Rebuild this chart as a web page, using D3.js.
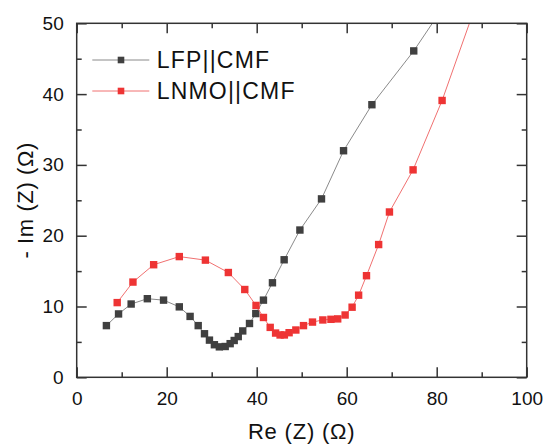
<!DOCTYPE html>
<html>
<head>
<meta charset="utf-8">
<script src="https://cdn.jsdelivr.net/npm/d3@7/dist/d3.min.js"></script>
<style>
  html, body { margin: 0; padding: 0; background: #fff; }
  svg { display: block; }
  text { font-family: "Liberation Sans", Arial, sans-serif; fill: #111; }
</style>
</head>
<body>
<svg id="chart" width="545" height="448"></svg>
<script>
// ---- data ----
const seriesNames = ["LFP||CMF", "LNMO||CMF"];
const lfpX = [6.6, 9.3, 12.1, 15.7, 19.3, 22.8, 25.2, 27.0, 28.4, 29.5, 30.6, 31.7, 33.0, 34.1, 35.0, 35.9, 36.9, 38.4, 39.8, 41.5, 43.5, 46.1, 49.6, 54.4, 59.3, 65.6, 74.9, 84.0];
const lfpY = [7.3, 8.95, 10.35, 11.1, 10.9, 9.95, 8.6, 7.3, 6.15, 5.25, 4.6, 4.3, 4.35, 4.75, 5.2, 5.75, 6.55, 7.6, 9.0, 10.9, 13.35, 16.6, 20.8, 25.2, 32.0, 38.5, 46.1, 54.7];
const lnmoX = [9.0, 12.5, 17.1, 22.8, 28.6, 33.7, 37.35, 39.85, 41.5, 43.0, 44.2, 45.2, 46.15, 47.2, 48.7, 50.4, 52.4, 54.7, 56.5, 58.0, 59.65, 61.2, 62.65, 64.4, 67.1, 69.5, 74.75, 81.2, 89.5];
const lnmoY = [10.55, 13.45, 15.9, 17.05, 16.55, 14.8, 12.4, 10.15, 8.45, 7.05, 6.25, 5.98, 5.98, 6.3, 6.68, 7.3, 7.8, 8.1, 8.19, 8.25, 8.8, 9.9, 11.6, 14.35, 18.75, 23.35, 29.3, 39.1, 54.0];
const xMajorTicks = [0, 20, 40, 60, 80, 100];
const xMinorTicks = [10, 30, 50, 70, 90];
const yMajorTicks = [0, 10, 20, 30, 40, 50];
const yMinorTicks = [5, 15, 25, 35, 45];
const xTitle = "Re (Z) (\u03A9)";
const yTitle = "- Im (Z) (\u03A9)";

// ---- layout ----
const svg = d3.select("#chart");
const L = 76.7, R = 526.7, T = 23.3, B = 377.3;
const x = d3.scaleLinear().domain([0, 100]).range([L, R]);
const y = d3.scaleLinear().domain([0, 50]).range([B, T]);
const axisColor = "#333";
const colors = ["#404040", "#ee3434"];
const lineColors = ["#8a8a8a", "#f07070"];

svg.append("defs").append("clipPath").attr("id", "clip")
  .append("rect").attr("x", L).attr("y", T).attr("width", R - L).attr("height", B - T);

const series = [
  lfpX.map((v, i) => [v, lfpY[i]]),
  lnmoX.map((v, i) => [v, lnmoY[i]])
];

const plot = svg.append("g").attr("clip-path", "url(#clip)");
const line = d3.line().x(d => x(d[0])).y(d => y(d[1]));
const ms = 7.4;
series.forEach((s, k) => {
  plot.append("path").datum(s).attr("d", line)
    .attr("fill", "none").attr("stroke", lineColors[k]).attr("stroke-width", 1);
  plot.selectAll(null).data(s).enter().append("rect")
    .attr("x", d => x(d[0]) - ms / 2).attr("y", d => y(d[1]) - ms / 2)
    .attr("width", ms).attr("height", ms)
    .attr("fill", colors[k]);
});

// ---- axes with inward ticks on all sides ----
const fontTick = "19px";
const gx = svg.append("g").attr("transform", `translate(0,${B})`)
  .call(d3.axisBottom(x).tickValues(xMajorTicks).tickSizeInner(-10).tickSizeOuter(0).tickPadding(14));
gx.selectAll("text").style("font-size", fontTick).attr("dy", "0.71em");
svg.append("g").attr("transform", `translate(0,${B})`)
  .call(d3.axisBottom(x).tickValues(xMinorTicks).tickSizeInner(-5).tickSizeOuter(0).tickFormat(""));
svg.append("g").attr("transform", `translate(0,${T})`)
  .call(d3.axisTop(x).tickValues(xMajorTicks).tickSizeInner(-10).tickSizeOuter(0).tickFormat(""));
svg.append("g").attr("transform", `translate(0,${T})`)
  .call(d3.axisTop(x).tickValues(xMinorTicks).tickSizeInner(-5).tickSizeOuter(0).tickFormat(""));

const gy = svg.append("g").attr("transform", `translate(${L},0)`)
  .call(d3.axisLeft(y).tickValues(yMajorTicks).tickSizeInner(-10).tickSizeOuter(0).tickPadding(13));
gy.selectAll("text").style("font-size", fontTick);
svg.append("g").attr("transform", `translate(${L},0)`)
  .call(d3.axisLeft(y).tickValues(yMinorTicks).tickSizeInner(-5).tickSizeOuter(0).tickFormat(""));
svg.append("g").attr("transform", `translate(${R},0)`)
  .call(d3.axisRight(y).tickValues(yMajorTicks).tickSizeInner(-10).tickSizeOuter(0).tickFormat(""));
svg.append("g").attr("transform", `translate(${R},0)`)
  .call(d3.axisRight(y).tickValues(yMinorTicks).tickSizeInner(-5).tickSizeOuter(0).tickFormat(""));

svg.selectAll(".domain").remove();
svg.selectAll(".tick line").attr("stroke", axisColor).attr("stroke-width", 1.5);
svg.selectAll(".tick text").style("font-family", '"Liberation Sans", Arial, sans-serif').attr("fill", "#111");

svg.append("rect").attr("x", L).attr("y", T).attr("width", R - L).attr("height", B - T)
  .attr("fill", "none").attr("stroke", axisColor).attr("stroke-width", 1.5);

// ---- titles ----
svg.append("text").attr("x", (L + R) / 2).attr("y", 438.5)
  .attr("text-anchor", "middle").style("font-size", "22px").style("letter-spacing", "0.8px").text(xTitle);
svg.append("text").attr("transform", `translate(33,${(T + B) / 2}) rotate(-90)`)
  .attr("text-anchor", "middle").style("font-size", "22px").style("letter-spacing", "0.6px").text(yTitle);

// ---- legend ----
const legRows = [60, 91];
seriesNames.forEach((name, k) => {
  const g = svg.append("g");
  g.append("line").attr("x1", 92.3).attr("x2", 149.3).attr("y1", legRows[k]).attr("y2", legRows[k])
    .attr("stroke", lineColors[k]).attr("stroke-width", 1);
  g.append("rect").attr("x", 121 - 3.3).attr("y", legRows[k] - 3.3).attr("width", 6.6).attr("height", 6.6)
    .attr("fill", colors[k]);
  g.append("text").attr("x", 156.7).attr("y", legRows[k] + 8)
    .style("font-size", "23px").style("letter-spacing", "1.2px").text(name);
});
</script>
</body>
</html>
